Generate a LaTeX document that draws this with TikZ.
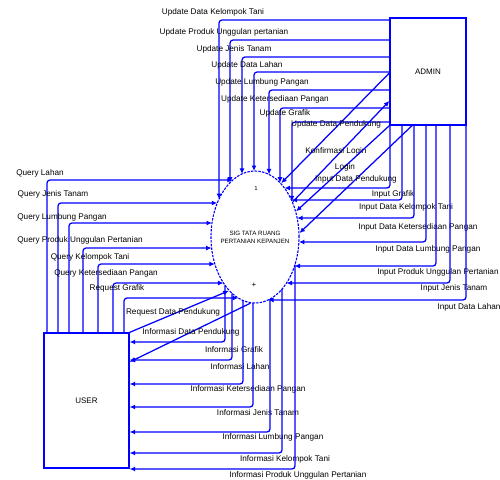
\documentclass[tikz,border=0pt]{standalone}
\usepackage{fontspec}
\setmainfont{Liberation Sans}
\usepackage{tikz}
\usetikzlibrary{arrows.meta,positioning,calc,shapes.geometric}
\definecolor{dfdblue}{RGB}{0,0,255}
\tikzset{
  entity/.style={draw=dfdblue,line width=1.3pt,fill=white,inner sep=0pt,
                 font=\fontsize{8}{9}\selectfont},
  process/.style={ellipse,draw=dfdblue,line width=1.1pt,
                  dash pattern=on 2.5pt off 1.2pt,inner sep=0pt},
  proctext/.style={align=center,inner sep=0pt,font=\fontsize{6.2}{8}\selectfont},
  flow/.style={-{Latex[length=5.5pt,width=5pt]},draw=dfdblue,line width=1.25pt,
               rounded corners=3pt},
  lbl/.style={inner sep=0pt,font=\fontsize{8.2}{9}\selectfont},
}
\begin{document}
\begin{tikzpicture}[x=1pt,y=-1pt,font=\fontsize{8}{9}\selectfont]
  \useasboundingbox (0,0) rectangle (500,479);
  \def\cx{255}\def\cy{237}\def\rx{44}\def\ry{66}
  \node[process,minimum width=2*\rx pt,minimum height=2*\ry pt] (proc) at (\cx,\cy) {};
  \node[proctext] (proclbl) at (proc.center) {SIG TATA RUANG\\PERTANIAN KEPANJEN};
  \node[inner sep=0pt,font=\fontsize{6}{6}\selectfont] (procno) at ($(proc.center)+(1,-49)$) {1};
  \node[inner sep=0pt] (procplus) at ($(proc.center)+(-1,48)$) {+};
  \node[entity,minimum width=76pt,minimum height=107pt] (admin) at (428,71.5) {ADMIN};
  \node[entity,minimum width=85pt,minimum height=135pt] (user) at (86.5,400.5) {USER};
  % USER -> proses
  \foreach \t/\xx/\yy/\lx/\ly in {Query Lahan/47/180/40/173,
      Query Jenis Tanam/58/203/53/194,
      Query Lumbung Pangan/69/223/62/217,
      Query Produk Unggulan Pertanian/83/248/80/240,
      Query Kelompok Tani/98/264/90/257,
      Query Ketersediaan Pangan/113/283/106/273,
      Request Grafik/124/298/117/288}
    {\pgfmathsetmacro\ex{\cx-\rx*sqrt(1-((\yy-\cy)/\ry)*((\yy-\cy)/\ry))}
     \coordinate (q-\yy) at (\ex,\yy);
     \draw[flow] (user.north -| \xx,0) |- (q-\yy);
     \node[lbl] (lq-\yy) at (\lx,\ly) {\t};}
  % ADMIN -> proses (atas)
  \foreach \t/\yy/\xx/\lx/\ly in {Update Data Kelompok Tani/20/219/213/12,
      Update Produk Unggulan pertanian/40/230/224/32,
      Update Jenis Tanam/57/242/234/49,
      Update Data Lahan/72/254/247/65,
      Update Lumbung Pangan/90/269/262/82,
      Update Ketersediaan Pangan/108/280/275/99,
      Update Grafik/122/292/285/113}
    {\pgfmathsetmacro\ey{\cy-\ry*sqrt(1-((\xx-\cx)/\rx)*((\xx-\cx)/\rx))}
     \coordinate (u-\xx) at (\xx,\ey);
     \draw[flow] (admin.west |- 0,\yy) -| (u-\xx);
     \node[lbl] (lu-\xx) at (\lx,\ly) {\t};}
  % ADMIN -> proses (kanan)
  \foreach \t/\xx/\yy/\lx/\ly in {Input Grafik/390/188/393/194,
      Input Data Kelompok Tani/402/200/406/207,
      Input Data Ketersediaan Pangan/414/218/418/227,
      Input Data Lumbung Pangan/426/242/428/249,
      Input Produk Unggulan Pertanian/436/266/438/272,
      Input Jenis Tanam/450/283/454/288,
      Input Data Lahan/466/300/469/307}
    {\pgfmathsetmacro\ex{\cx+\rx*sqrt(1-((\yy-\cy)/\ry)*((\yy-\cy)/\ry))}
     \coordinate (i-\yy) at (\ex,\yy);
     \draw[flow] (admin.south -| \xx,0) |- (i-\yy);
     \node[lbl] (li-\yy) at (\lx,\ly) {\t};}
  % proses -> USER
  \foreach \t/\xx/\yy/\lx/\ly in {Informasi Grafik/225/342/234/350,
      Informasi Lahan/232/360/240/367,
      Informasi Ketersediaan Pangan/243/384/248/389,
      Informasi Jenis Tanam/253/407/258/413,
      Informasi Lumbung Pangan/270/432/273/437,
      Informasi Kelompok Tani/282/453/285/459,
      Informasi Produk Unggulan Pertanian/295/469/298/475}
    {\pgfmathsetmacro\ey{\cy+\ry*sqrt(1-((\xx-\cx)/\rx)*((\xx-\cx)/\rx))}
     \coordinate (o-\yy) at (\xx,\ey);
     \draw[flow] (o-\yy) |- (user.east |- 0,\yy);
     \node[lbl] (lo-\yy) at (\lx,\ly) {\t};}
  % data pendukung & login
  \draw[flow] (admin.west |- 0,73) -- (proc.64);
  \node[lbl] (lupd) at (336,124) {Update Data Pendukung};
  \draw[flow] (proc.43) -- (admin.west |- 0,101);
  \node[lbl] (lkonf) at (336,151) {Konfirmasi Login};
  \draw[flow] (admin.south west) -- (proc.32);
  \node[lbl] (llogin) at (345,167) {Login};
  \draw[flow] (admin.south -| 412,0) -- (proc.5);
  \node[lbl] (linp) at (356,179) {Input Data Pendukung};
  \draw[flow] (user.north east) -- (proc.244);
  \node[lbl] (lreq) at (173,312) {Request Data Pendukung};
  \draw[flow] (proc.266) -- (user.east |- 0,362);
  \node[lbl] (linf) at (191,332) {Informasi Data Pendukung};
\end{tikzpicture}
\end{document}
